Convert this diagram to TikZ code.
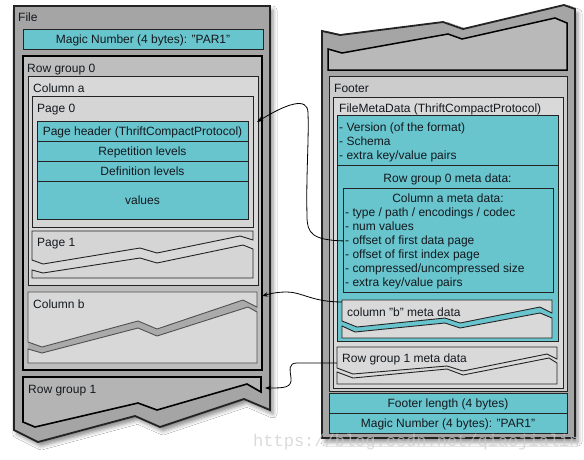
\documentclass[tikz,border=0pt]{standalone}
\usepackage{fontspec}
\setmainfont{Liberation Sans}
\newfontfamily\wmfont{Liberation Mono}
\usetikzlibrary{shadows.blur,arrows.meta}
\newcommand{\dq}{\symbol{34}}
\definecolor{tealc}{RGB}{104,196,205}
\definecolor{outerg}{RGB}{165,165,165}
\definecolor{rgzero}{RGB}{190,190,190}
\definecolor{cola}{RGB}{216,216,216}
\definecolor{pageg}{RGB}{213,213,213}
\definecolor{bandg}{RGB}{170,170,170}
\definecolor{rgone}{RGB}{180,180,180}
\definecolor{topg}{RGB}{185,185,185}
\definecolor{footg}{RGB}{204,204,204}
\definecolor{fmdg}{RGB}{217,217,217}
\definecolor{txt}{RGB}{20,25,30}
\definecolor{edge}{RGB}{35,35,35}
\begin{document}
\begin{tikzpicture}[x=1pt,y=-1pt,
  font=\fontsize{12}{14}\selectfont,
  lbl/.style={anchor=base west, inner sep=0pt, text=txt},
  ctr/.style={anchor=base, inner sep=0pt, text=txt},
  box/.style={anchor=north west, inner sep=0pt, outer sep=0pt, draw=edge, line width=0.9pt},
  tealbox/.style={box, fill=tealc},
  filebody/.style={fill=outerg, draw=edge, line width=1.8pt, line join=miter,
    blur shadow={shadow xshift=3pt, shadow yshift=-4pt, shadow blur radius=4pt, shadow opacity=45}},
  piece/.style={draw=edge, line width=0.9pt, line join=miter},
  conn/.style={draw=black, line width=0.8pt, -{Stealth[length=6pt,width=4.5pt]}}
]
\useasboundingbox (0,0) rectangle (584,459);
\fill[white] (0,0) rectangle (584,459);

% ================= LEFT FILE =================
\path[filebody] (14,6) -- (270,6) -- (270,410) -- (244,399) -- (160,427) -- (135,416) -- (38,442) -- (14,430) -- cycle;
\node[lbl] (tfile) at (18,21) {File};
\node[tealbox, minimum width=240pt, minimum height=20pt] (magicL) at (23,29) {};
\node[ctr] (tmagicL) at (143,43) {Magic Number (4 bytes): \dq PAR1\dq};

\node[box, fill=rgzero, draw=black, line width=2.3pt, minimum width=239pt, minimum height=314pt] (rg0) at (23,56) {};
\node[lbl] (trg0) at (27,72) {Row group 0};

\node[box, fill=cola, minimum width=230pt, minimum height=209pt] (cola) at (28,76) {};
\node[lbl] (tcola) at (33,92) {Column a};

\node[box, fill=pageg, minimum width=221pt, minimum height=131pt] (page0) at (32,96) {};
\node[lbl] (tpage0) at (37,112) {Page 0};

\node[tealbox, minimum width=211pt, minimum height=20pt] (ph) at (37,121) {};
\node[tealbox, minimum width=211pt, minimum height=20pt] (rep) at (37,141) {};
\node[tealbox, minimum width=211pt, minimum height=20pt] (def) at (37,161) {};
\node[tealbox, minimum width=211pt, minimum height=38pt] (vals) at (37,181) {};
\node[ctr] (tph) at (142.5,135) {Page header (ThriftCompactProtocol)};
\node[ctr] (trep) at (142.5,155) {Repetition levels};
\node[ctr] (tdef) at (142.5,175) {Definition levels};
\node[ctr] (tvals) at (142.5,204) {values};

% Page 1 (torn)
\path[piece, fill=pageg] (32,231) -- (253,231) -- (253,240) -- (240,236) -- (157,253) -- (140,248) -- (43,264) -- (32,260) -- cycle;
\path[piece, fill=pageg] (32,270) -- (43,273) -- (140,258) -- (157,263) -- (243,245) -- (253,249) -- (253,278) -- (32,278) -- cycle;
\node[lbl] (tpage1) at (37,246) {Page 1};

% Column b (torn)
\fill[bandg] (28,342) -- (42,347) -- (138,321) -- (157,329) -- (243,300) -- (257,307) -- (257,312) -- (248,307) -- (157,336) -- (138,328) -- (42,353) -- (28,349) -- cycle;
\path[piece, draw=edge!80, fill=cola] (28,292) -- (257,292) -- (257,307) -- (243,300) -- (157,329) -- (138,321) -- (42,347) -- (28,342) -- cycle;
\path[piece, draw=edge!80, fill=cola] (28,349) -- (42,353) -- (138,328) -- (157,336) -- (248,307) -- (257,312) -- (257,363) -- (28,363) -- cycle;
\node[lbl] (tcolb) at (33,308) {Column b};
\coordinate (colbtip) at (262,296);

% Row group 1
\path[fill=rgone, draw=black, line width=1.6pt, line join=miter] (23,377) -- (261,377) -- (261,392) -- (247,384) -- (157,410) -- (138,403) -- (35,427) -- (23,422) -- cycle;
\node[lbl] (trg1) at (28,393) {Row group 1};
\coordinate (rg1tip) at (265,388);
\coordinate (page0tip) at (257,122);

% ================= RIGHT FILE =================
\path[filebody] (322,31) -- (340,35) -- (443,22) -- (463,29) -- (564,5) -- (575,9) -- (575,438) -- (322,438) -- cycle;
\path[fill=topg, draw=black, line width=1.5pt, line join=miter] (328,49) -- (342,53) -- (448,34) -- (462,39) -- (555,18) -- (567,23) -- (567,70) -- (328,70) -- cycle;

\node[box, fill=footg, minimum width=238pt, minimum height=315pt] (footer) at (329,76) {};
\node[lbl] (tfooter) at (334,92) {Footer};
\node[box, fill=fmdg, minimum width=230pt, minimum height=291pt] (fmd) at (333,97) {};
\node[lbl] (tfmd) at (339,112) {FileMetaData (ThriftCompactProtocol)};

\node[tealbox, minimum width=221pt, minimum height=50pt] (version) at (337,115) {};
\node[lbl] (tv1) at (339,131) {- Version (of the format)};
\node[lbl] (tv2) at (339,145) {- Schema};
\node[lbl] (tv3) at (339,159) {- extra key/value pairs};

\node[tealbox, minimum width=221pt, minimum height=176pt] (rg0meta) at (337,165) {};
\node[ctr] (trg0meta) at (447.5,182) {Row group 0 meta data:};

\node[tealbox, minimum width=210pt, minimum height=104pt] (cameta) at (343,188) {};
\node[ctr] (tcameta) at (448,202) {Column a meta data:};
\node[lbl] (m1) at (345,216) {- type / path / encodings / codec};
\node[lbl] (m2) at (345,230) {- num values};
\node[lbl] (m3) at (345,244) {- offset of first data page};
\node[lbl] (m4) at (345,258) {- offset of first index page};
\node[lbl] (m5) at (345,272) {- compressed/uncompressed size};
\node[lbl] (m6) at (345,286) {- extra key/value pairs};

% column b meta (torn)
\path[piece, fill=fmdg] (342,300) -- (552,300) -- (552,313) -- (540,307) -- (460,323) -- (445,318) -- (357,327) -- (342,321) -- cycle;
\path[piece, fill=fmdg] (342,326) -- (355,332) -- (445,323) -- (460,328) -- (540,313) -- (552,318) -- (552,338) -- (342,338) -- cycle;
\node[lbl] (tcbmeta) at (347,316) {column \dq b\dq{} meta data};
\coordinate (cbmeta) at (342,302);

% row group 1 meta (torn)
\path[piece, fill=fmdg] (337,347) -- (557,347) -- (557,359) -- (547,354) -- (463,371) -- (447,366) -- (353,374) -- (337,368) -- cycle;
\path[piece, fill=fmdg] (337,372) -- (353,378) -- (447,369) -- (463,375) -- (549,358) -- (557,363) -- (557,384) -- (337,384) -- cycle;
\node[lbl] (trg1meta) at (342,362) {Row group 1 meta data};
\coordinate (rg1meta) at (337,363);

\node[tealbox, minimum width=238pt, minimum height=20pt] (flen) at (329,393) {};
\node[ctr] (tflen) at (448,407) {Footer length (4 bytes)};
\node[tealbox, minimum width=238pt, minimum height=20pt] (magicR) at (329,413) {};
\node[ctr] (tmagicR) at (448,427) {Magic Number (4 bytes): \dq PAR1\dq};

% ================= CONNECTORS =================
\draw[conn] (cameta.west |- m3) .. controls (312,240) and (307,233) .. (307,216)
  .. controls (306,175) and (309,140) .. (308,113)
  .. controls (308,96) and (286,104) .. (page0tip);
\draw[conn] (cbmeta) .. controls (312,302) and (302,292) .. (287,292)
  .. controls (276,292) and (269,294) .. (colbtip);
\draw[conn] (rg1meta) -- (297,363) .. controls (288,363) and (290,370) .. (291,378)
  .. controls (292,388) and (284,388) .. (rg1tip);

% watermark
\node[anchor=base west, inner sep=0pt, font=\wmfont\fontsize{17}{17}\selectfont, text=gray!40, opacity=0.7] (wm) at (253,446) {https://blog.csdn.net/qiaojialin};
\end{tikzpicture}
\end{document}
